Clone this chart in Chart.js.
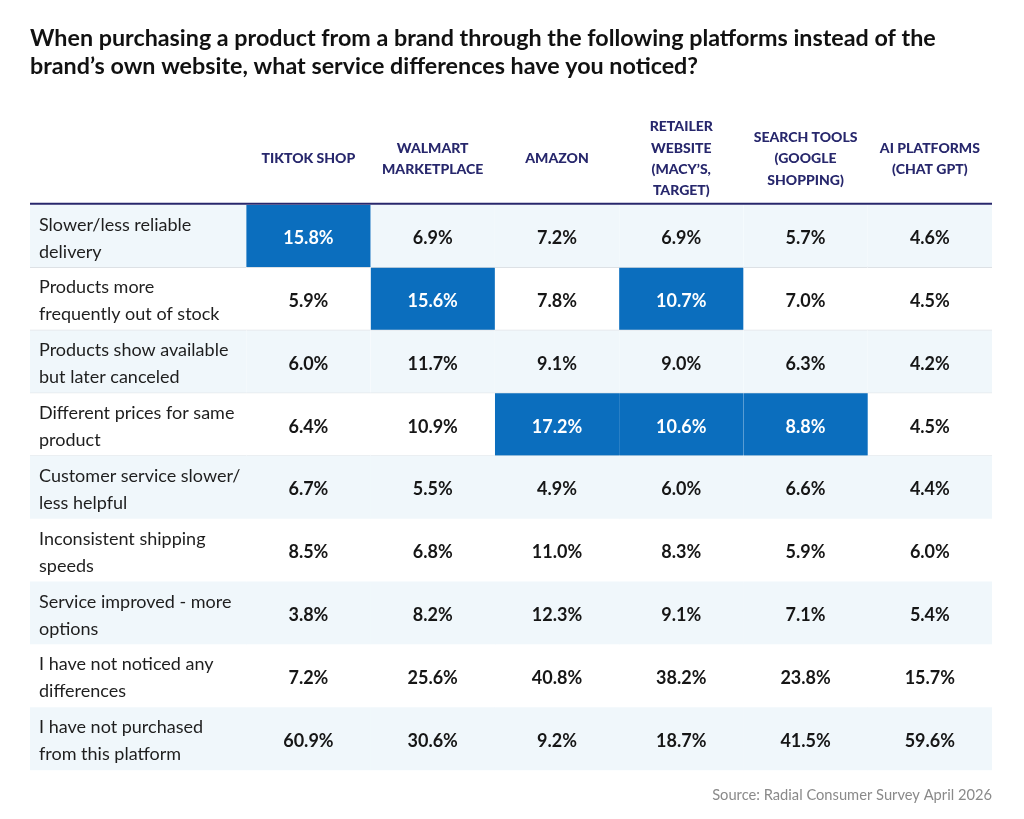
<!DOCTYPE html>
<html>
<head>
<meta charset="utf-8">
<title>Service differences by platform</title>
<script src="https://cdn.jsdelivr.net/npm/chart.js@4.4.1/dist/chart.umd.min.js"></script>
<style>
  html, body { margin: 0; padding: 0; background: #fff; }
  canvas { display: block; }
</style>
</head>
<body>
<canvas id="myChart" width="1024" height="819"></canvas>
<script>
// ---- data ----
const rowLabels = [
    ['Slower/less reliable', 'delivery'],
    ['Products more', 'frequently out of stock'],
    ['Products show available', 'but later canceled'],
    ['Different prices for same', 'product'],
    ['Customer service slower/', 'less helpful'],
    ['Inconsistent shipping', 'speeds'],
    ['Service improved - more', 'options'],
    ['I have not noticed any', 'differences'],
    ['I have not purchased', 'from this platform']
];

const platforms = [
    ['TIKTOK SHOP'],
    ['WALMART', 'MARKETPLACE'],
    ['AMAZON'],
    ['RETAILER', 'WEBSITE', '(MACY\u2019S,', 'TARGET)'],
    ['SEARCH TOOLS', '(GOOGLE', 'SHOPPING)'],
    ['AI PLATFORMS', '(CHAT GPT)']
];

const tiktok   = [15.8, 5.9, 6.0, 6.4, 6.7, 8.5, 3.8, 7.2, 60.9];
const walmart  = [6.9, 15.6, 11.7, 10.9, 5.5, 6.8, 8.2, 25.6, 30.6];
const amazon   = [7.2, 7.8, 9.1, 17.2, 4.9, 11.0, 12.3, 40.8, 9.2];
const retailer = [6.9, 10.7, 9.0, 10.6, 6.0, 8.3, 9.1, 38.2, 18.7];
const search   = [5.7, 7.0, 6.3, 8.8, 6.6, 5.9, 7.1, 23.8, 41.5];
const aiTools  = [4.6, 4.5, 4.2, 4.5, 4.4, 6.0, 5.4, 15.7, 59.6];

// column indexes shaded blue in each row
const highlighted = [[0], [1, 3], [], [2, 3, 4], [], [], [], [], []];

const columns = [tiktok, walmart, amazon, retailer, search, aiTools];

// ---- style ----
const FONT = "Lato, 'Noto Sans', sans-serif";
const NAVY = '#27276c';
const BLUE = '#0b6ebe';
const STRIPE = '#f0f7fb';
const RULE = '#d5dadf';
const LABEL_W = 1.74;   // width of the label column, in data-column units
const RULED_ROWS = 4;   // rows with a grey rule under them

const rowFill = (i) => i % 2 === 0 ? STRIPE : '#ffffff';
const rowBorder = (i) => i < RULED_ROWS ? { top: 0, left: 0, right: 0, bottom: 1 } : 0;

const labelDataset = {
    label: 'labels',
    data: rowLabels.map(() => [0, LABEL_W]),
    backgroundColor: rowLabels.map((r, i) => rowFill(i)),
    borderColor: RULE,
    borderWidth: rowLabels.map((r, i) => rowBorder(i)),
    borderSkipped: false
};

const valueDatasets = columns.map((col, c) => ({
    label: platforms[c].join(' '),
    data: col.map(() => [LABEL_W + c, LABEL_W + c + 1]),
    values: col,
    backgroundColor: col.map((v, i) => highlighted[i].includes(c) ? BLUE : rowFill(i)),
    borderColor: RULE,
    borderWidth: col.map((v, i) => rowBorder(i)),
    borderSkipped: false
}));

const tableText = {
    id: 'tableText',
    afterDatasetsDraw(chart) {
        const { ctx, chartArea, scales } = chart;
        ctx.save();

        // header rule
        ctx.strokeStyle = NAVY;
        ctx.lineWidth = 2;
        ctx.beginPath();
        ctx.moveTo(chartArea.left, chartArea.top - 1);
        ctx.lineTo(chartArea.right, chartArea.top - 1);
        ctx.stroke();

        // column headers
        ctx.fillStyle = NAVY;
        ctx.font = "900 14px " + FONT;
        ctx.textAlign = 'center';
        ctx.textBaseline = 'middle';
        const headMid = chartArea.top - 46;
        const headLine = 21.3;
        platforms.forEach((lines, c) => {
            const x = scales.x.getPixelForValue(LABEL_W + c + 0.5);
            const y0 = headMid - (lines.length - 1) * headLine / 2;
            lines.forEach((t, k) => ctx.fillText(t, x, y0 + k * headLine));
        });

        // row labels
        const labelMeta = chart.getDatasetMeta(0);
        ctx.fillStyle = '#1e1e1e';
        ctx.font = "18px " + FONT;
        ctx.textAlign = 'left';
        labelMeta.data.forEach((bar, i) => {
            const lines = rowLabels[i];
            const y0 = bar.y + 2 - (lines.length - 1) * 27 / 2;
            lines.forEach((t, k) => ctx.fillText(t, chartArea.left + 9, y0 + k * 27));
        });

        // cell values
        ctx.font = "bold 18px " + FONT;
        ctx.textAlign = 'center';
        valueDatasets.forEach((ds, c) => {
            const meta = chart.getDatasetMeta(c + 1);
            meta.data.forEach((bar, i) => {
                const p = bar.getCenterPoint();
                ctx.fillStyle = highlighted[i].includes(c) ? '#ffffff' : '#161616';
                ctx.fillText(ds.values[i].toFixed(1) + '%', p.x, p.y + 2);
            });
        });
        ctx.restore();
    }
};

const ctx = document.getElementById('myChart').getContext('2d');
const myChart = new Chart(ctx, {
    type: 'bar',
    data: {
        labels: rowLabels.map(r => r.join(' ')),
        datasets: [labelDataset, ...valueDatasets]
    },
    options: {
        responsive: false,
        animation: false,
        indexAxis: 'y',
        grouped: false,
        barPercentage: 1,
        categoryPercentage: 1,
        layout: {
            padding: { left: 30, right: 32, top: 24, bottom: 15 }
        },
        scales: {
            x: { type: 'linear', min: 0, max: LABEL_W + columns.length, display: false },
            y: { type: 'category', display: false }
        },
        plugins: {
            legend: { display: false },
            tooltip: { enabled: false },
            title: {
                display: true,
                align: 'start',
                text: [
                    'When purchasing a product from a brand through the following platforms instead of the',
                    'brand\u2019s own website, what service differences have you noticed?'
                ],
                color: '#111111',
                font: { family: FONT, size: 23.3, weight: 'bold', lineHeight: 1.22 },
                padding: { top: 0, bottom: 124 }
            },
            subtitle: {
                display: true,
                position: 'bottom',
                align: 'end',
                text: 'Source: Radial Consumer Survey April 2026',
                color: '#8a8a8a',
                font: { family: FONT, size: 14.7, lineHeight: 1.2 },
                padding: { top: 16, bottom: 0 }
            }
        }
    },
    plugins: [tableText]
});
</script>
</body>
</html>
